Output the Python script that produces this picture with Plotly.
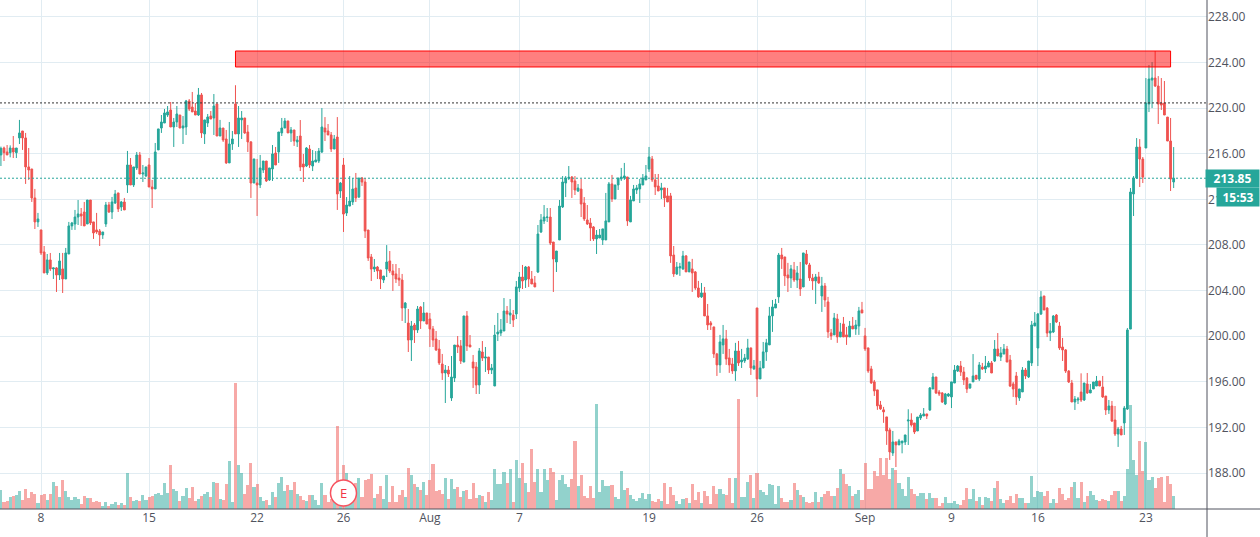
import plotly.graph_objects as go

# hourly bars, oldest first
opens = [
    215.89, 216.50, 216.15, 216.09, 216.50, 216.09, 217.38, 217.99, 217.38, 214.84,
    214.66, 212.12, 210.02, 209.32, 207.39, 205.55, 206.69, 205.90, 205.99, 205.37,
    205.90, 205.02, 207.21, 209.67, 209.84, 210.45, 210.72, 210.89, 209.84, 211.94,
    210.02, 209.32, 209.23, 208.88, 209.84, 211.51, 210.89, 211.68, 212.56, 211.33,
    211.77, 213.26, 215.01, 213.26, 214.75, 215.89, 214.22, 214.05, 215.01, 213.08,
    212.91, 216.33, 218.25, 218.69, 219.39, 219.83, 218.34, 218.78, 219.39, 218.25,
    218.34, 220.62, 220.09, 219.74, 219.39, 221.15, 217.73, 218.69, 219.30, 219.13,
    220.36, 217.55, 218.25, 217.29, 215.19, 216.85, 220.36, 217.73, 218.96, 219.13,
    217.90, 217.03, 213.43, 213.43, 213.26, 214.57, 215.36, 213.70, 214.66, 216.06,
    216.15, 217.82, 218.25, 218.87, 217.82, 218.08, 217.03, 217.55, 215.10, 214.92,
    216.41, 214.92, 215.27, 215.36, 216.15, 218.25, 217.99, 217.64, 216.41, 217.46,
    212.73, 215.01, 210.80, 211.41, 211.77, 212.99, 212.20, 213.87, 213.52, 209.31,
    206.95, 205.89, 206.07, 205.81, 204.93, 205.89, 206.60, 205.72, 205.46, 205.10,
    204.93, 202.48, 201.16, 199.67, 200.99, 200.55, 202.56, 201.34, 202.04, 201.51,
    200.64, 199.76, 198.88, 197.57, 196.78, 197.04, 194.59, 196.34, 199.23, 199.15,
    197.74, 201.78, 199.23, 197.74, 197.31, 195.73, 198.62, 198.09, 198.18, 197.04,
    195.64, 200.20, 200.29, 200.46, 202.21, 201.86, 201.86, 201.95, 204.23, 205.19,
    204.93, 206.07, 205.02, 204.67, 205.63, 209.14, 210.10, 210.40, 210.45, 208.26,
    206.51, 208.44, 211.33, 213.43, 213.84, 213.96, 213.61, 212.73, 212.90, 211.68,
    210.19, 209.93, 209.58, 208.53, 208.61, 208.44, 208.44, 210.02, 213.35, 212.03,
    213.26, 213.79, 213.87, 213.96, 210.02, 211.86, 212.82, 212.91, 213.26, 213.70,
    214.66, 215.54, 213.70, 213.17, 212.82, 213.00, 212.30, 212.30, 207.12, 205.46,
    205.99, 205.90, 207.04, 205.64, 205.90, 205.64, 204.23, 203.45, 203.80, 201.78,
    201.17, 200.82, 198.45, 197.49, 199.24, 199.77, 198.10, 197.57, 196.96, 198.71,
    197.75, 197.84, 198.01, 198.98, 197.14, 202.48, 196.26, 197.22, 198.63, 199.24,
    201.78, 202.48, 203.45, 207.12, 206.95, 205.37, 205.11, 205.81, 204.93, 205.02,
    204.32, 207.21, 206.25, 205.11, 204.85, 205.20, 203.53, 204.41, 203.01, 200.29,
    200.12, 201.52, 199.94, 201.08, 200.12, 199.94, 200.90, 200.64, 200.90, 202.31,
    200.03, 198.98, 197.14, 196.00, 195.30, 193.98, 193.55, 192.93, 191.79, 189.77,
    190.74, 190.48, 190.65, 190.73, 192.57, 192.66, 192.40, 191.70, 192.84, 193.01,
    193.19, 193.54, 195.38, 196.43, 195.11, 195.03, 194.06, 194.76, 194.68, 195.90,
    196.95, 197.39, 196.87, 196.34, 195.47, 196.00, 196.58, 196.25, 197.30, 197.13,
    197.30, 197.66, 197.83, 198.88, 198.18, 198.44, 198.88, 197.92, 195.82, 196.52,
    194.59, 195.12, 197.04, 196.43, 197.66, 200.90, 198.97, 201.95, 203.53, 202.47,
    200.28, 200.37, 201.86, 200.90, 199.06, 198.80, 196.95, 195.90, 194.24, 194.41,
    195.11, 194.41, 195.82, 195.03, 195.38, 195.64, 196.08, 195.55, 194.76, 193.54,
    193.89, 192.66, 191.43, 191.87, 192.40, 193.62, 200.63, 212.47, 213.87, 216.58,
    215.53, 216.50, 220.35, 222.45, 222.63, 221.93, 220.44, 220.44, 219.21, 217.11,
    213.52,
]
highs = [
    216.62, 216.62, 216.76, 216.73, 217.55, 216.50, 218.96, 217.99, 217.82, 216.50,
    214.66, 212.91, 210.81, 209.32, 207.91, 207.21, 207.30, 205.99, 206.07, 207.30,
    207.30, 207.74, 210.02, 210.02, 211.07, 211.94, 211.24, 211.77, 211.94, 211.94,
    210.02, 210.81, 209.40, 209.14, 211.77, 211.77, 212.21, 212.82, 212.56, 211.86,
    212.12, 216.24, 215.62, 214.84, 216.15, 216.15, 215.01, 214.84, 215.62, 213.70,
    216.94, 218.17, 219.39, 219.92, 220.18, 220.53, 219.13, 220.18, 219.39, 219.30,
    220.71, 220.79, 221.41, 220.44, 221.76, 221.32, 218.96, 219.48, 219.74, 221.23,
    220.36, 218.96, 218.25, 218.08, 218.78, 217.99, 222.00, 220.18, 219.74, 219.13,
    218.52, 217.11, 215.54, 215.54, 215.89, 215.36, 215.36, 214.75, 216.76, 216.59,
    217.90, 219.13, 219.13, 218.87, 218.34, 218.08, 217.55, 218.95, 215.97, 216.58,
    216.76, 216.32, 216.23, 216.50, 220.00, 219.21, 218.60, 217.90, 217.64, 219.21,
    213.52, 215.62, 212.20, 214.04, 213.87, 214.31, 213.87, 213.96, 213.87, 209.31,
    207.21, 206.77, 206.16, 205.81, 205.28, 207.99, 207.47, 206.33, 206.33, 205.98,
    205.46, 203.00, 202.39, 201.34, 201.16, 202.65, 202.65, 203.00, 202.04, 202.04,
    200.90, 200.46, 199.67, 198.45, 197.48, 197.39, 198.27, 199.23, 200.02, 199.67,
    201.78, 202.21, 200.11, 198.36, 197.74, 198.97, 199.58, 199.06, 198.18, 197.57,
    200.99, 202.04, 201.51, 203.35, 202.65, 203.26, 202.30, 204.84, 205.63, 206.25,
    206.16, 206.16, 205.72, 205.28, 209.75, 210.71, 211.50, 211.24, 211.24, 208.26,
    207.47, 211.94, 214.04, 214.04, 214.92, 214.04, 214.04, 213.34, 213.78, 212.20,
    211.50, 210.36, 209.66, 209.31, 209.40, 209.41, 212.56, 213.52, 214.14, 213.26,
    213.87, 214.75, 215.19, 213.96, 212.30, 213.26, 213.26, 213.79, 214.22, 215.01,
    216.59, 215.80, 214.22, 214.22, 213.44, 213.00, 213.00, 212.56, 207.91, 206.51,
    206.43, 207.48, 207.12, 206.51, 206.78, 205.72, 204.85, 204.67, 204.32, 202.83,
    201.34, 200.82, 198.54, 200.12, 200.99, 200.55, 198.89, 198.10, 199.42, 199.59,
    198.89, 198.45, 199.77, 198.98, 197.92, 202.48, 197.84, 199.50, 199.77, 202.57,
    203.18, 203.27, 207.30, 207.74, 206.95, 206.43, 206.25, 206.51, 206.16, 206.51,
    207.30, 207.56, 206.43, 205.46, 205.46, 205.64, 205.20, 204.67, 203.45, 200.64,
    202.04, 201.96, 201.17, 201.69, 200.82, 201.34, 201.69, 201.43, 202.57, 203.01,
    200.73, 198.98, 197.40, 196.17, 195.30, 194.33, 193.81, 192.93, 191.97, 191.70,
    190.74, 191.00, 190.82, 191.35, 193.60, 193.25, 192.40, 192.92, 193.27, 193.71,
    193.19, 195.55, 196.78, 196.43, 195.29, 195.11, 195.03, 195.03, 196.00, 197.48,
    197.48, 197.83, 197.30, 196.43, 195.82, 198.44, 196.60, 197.74, 197.66, 198.27,
    197.83, 197.83, 199.67, 200.28, 199.06, 199.32, 199.15, 198.36, 196.00, 196.87,
    195.38, 197.30, 197.22, 197.83, 201.34, 202.12, 202.04, 203.96, 203.53, 202.56,
    201.16, 201.86, 201.95, 201.25, 199.85, 198.88, 197.04, 196.17, 194.76, 194.68,
    196.75, 195.90, 196.78, 195.82, 195.99, 196.52, 196.08, 196.52, 194.76, 194.41,
    194.33, 193.89, 192.05, 192.14, 193.89, 200.72, 212.99, 214.04, 217.37, 217.28,
    215.71, 222.63, 223.77, 224.03, 225.00, 222.80, 222.63, 222.37, 219.21, 219.13,
    216.58,
]
lows = [
    214.92, 215.36, 215.89, 215.68, 215.62, 215.62, 216.85, 216.33, 213.35, 213.70,
    211.77, 209.40, 209.58, 207.12, 205.55, 205.37, 205.72, 205.02, 203.88, 204.93,
    203.79, 205.02, 207.21, 209.32, 209.32, 209.75, 209.67, 209.67, 209.84, 209.75,
    208.53, 208.97, 207.91, 208.53, 209.58, 210.81, 210.28, 211.59, 210.89, 210.98,
    211.07, 212.56, 213.26, 213.08, 214.57, 214.22, 213.52, 213.96, 213.08, 211.24,
    212.91, 216.33, 217.82, 218.69, 219.22, 218.34, 216.59, 218.34, 218.25, 216.85,
    217.64, 219.74, 219.66, 219.39, 219.31, 217.38, 216.85, 218.34, 219.04, 217.64,
    217.55, 217.55, 217.03, 215.10, 215.19, 216.33, 217.73, 216.59, 217.29, 217.73,
    216.15, 212.12, 213.43, 210.54, 212.99, 214.31, 213.52, 213.61, 213.61, 215.01,
    215.19, 217.55, 218.25, 217.82, 217.03, 216.68, 216.59, 214.48, 213.52, 214.83,
    214.75, 214.48, 215.27, 215.18, 216.06, 217.11, 217.64, 216.15, 216.41, 211.07,
    212.12, 209.14, 210.54, 211.41, 211.50, 211.77, 212.12, 213.17, 208.61, 206.60,
    204.84, 205.63, 205.02, 204.14, 204.67, 205.19, 205.54, 203.97, 204.67, 204.40,
    201.34, 201.16, 198.62, 197.83, 199.41, 200.29, 200.64, 201.34, 201.07, 199.06,
    199.06, 198.71, 197.48, 196.17, 194.15, 196.43, 194.33, 195.99, 198.53, 197.57,
    197.74, 198.71, 199.06, 195.47, 194.94, 194.94, 197.83, 196.87, 196.69, 196.69,
    195.64, 199.58, 200.02, 200.46, 201.16, 201.07, 200.81, 201.51, 203.88, 204.14,
    204.23, 204.32, 204.58, 204.32, 205.54, 209.05, 209.84, 210.01, 208.00, 203.88,
    205.63, 208.44, 211.24, 212.20, 213.69, 212.12, 212.38, 212.64, 210.45, 210.10,
    209.75, 208.35, 208.35, 207.21, 208.61, 208.00, 208.44, 210.02, 211.77, 212.03,
    212.82, 213.61, 213.70, 209.67, 210.02, 211.86, 212.47, 211.68, 213.26, 213.70,
    214.40, 213.52, 212.38, 212.73, 212.03, 211.33, 211.77, 206.43, 205.20, 205.37,
    205.29, 205.81, 205.64, 205.64, 203.88, 204.06, 203.36, 203.36, 201.78, 200.55,
    200.55, 198.10, 196.52, 196.79, 198.45, 197.49, 196.79, 196.70, 196.09, 197.40,
    197.22, 197.66, 197.92, 196.61, 197.05, 194.68, 196.26, 197.22, 197.84, 199.24,
    200.38, 202.48, 202.92, 205.90, 204.41, 203.88, 204.23, 204.76, 204.23, 203.53,
    204.32, 206.25, 204.85, 204.06, 202.83, 204.59, 202.13, 202.57, 199.85, 199.68,
    200.12, 199.42, 199.94, 199.94, 199.24, 199.94, 200.64, 200.12, 200.12, 202.04,
    198.71, 196.79, 195.82, 194.77, 193.55, 193.55, 192.41, 190.48, 189.16, 189.51,
    188.54, 190.48, 189.74, 190.47, 190.47, 192.08, 191.43, 191.70, 192.66, 193.01,
    192.75, 193.45, 195.38, 194.94, 194.76, 194.15, 193.97, 194.68, 193.71, 195.90,
    196.87, 196.52, 195.73, 195.03, 195.38, 196.00, 196.17, 196.08, 197.04, 196.78,
    197.30, 196.78, 197.74, 198.27, 197.83, 198.44, 197.74, 195.55, 194.68, 193.98,
    194.33, 195.12, 196.25, 196.34, 197.39, 200.90, 197.39, 201.86, 202.30, 199.93,
    199.58, 200.28, 201.16, 198.80, 197.83, 196.78, 195.90, 194.24, 193.54, 194.06,
    194.24, 194.33, 194.94, 195.03, 195.38, 195.64, 195.64, 194.59, 193.10, 193.19,
    192.49, 191.26, 190.30, 191.35, 191.35, 193.54, 200.63, 210.54, 213.78, 213.08,
    213.43, 216.50, 219.65, 220.00, 221.84, 218.60, 219.83, 219.39, 217.11, 212.73,
    212.99,
]
closes = [
    216.47, 216.09, 215.89, 216.50, 216.15, 216.50, 217.82, 217.38, 214.84, 214.57,
    212.12, 210.02, 210.28, 207.30, 205.55, 206.69, 205.90, 205.99, 205.37, 206.60,
    205.02, 207.30, 209.67, 209.93, 210.45, 210.72, 210.54, 209.67, 211.94, 209.93,
    209.05, 209.14, 208.88, 209.14, 211.51, 210.89, 211.77, 212.47, 211.16, 211.77,
    211.07, 215.01, 213.26, 214.84, 215.89, 214.22, 214.31, 214.84, 213.08, 212.91,
    216.15, 218.17, 218.78, 219.57, 219.66, 218.34, 218.78, 219.48, 218.25, 218.43,
    220.62, 219.92, 219.66, 219.39, 221.15, 217.82, 218.96, 219.22, 219.04, 220.18,
    217.55, 218.25, 217.20, 215.19, 216.85, 217.29, 217.73, 219.13, 219.13, 217.82,
    217.03, 213.43, 215.54, 213.26, 214.75, 215.36, 213.61, 214.75, 215.98, 215.01,
    217.90, 218.25, 218.87, 217.82, 218.08, 217.11, 217.20, 214.83, 214.83, 216.50,
    215.01, 215.36, 215.45, 216.23, 218.34, 217.90, 217.64, 216.41, 217.29, 212.47,
    213.43, 210.71, 211.50, 211.85, 212.90, 212.12, 213.87, 213.52, 209.22, 206.86,
    205.89, 206.07, 205.72, 205.02, 205.28, 206.51, 205.72, 205.37, 205.02, 204.93,
    202.48, 202.91, 199.67, 200.90, 200.55, 202.39, 201.34, 202.04, 201.07, 200.64,
    199.67, 198.80, 197.66, 196.78, 197.04, 196.69, 196.43, 199.23, 199.06, 197.83,
    201.78, 199.15, 199.06, 197.22, 195.73, 198.71, 198.09, 198.18, 197.04, 197.22,
    200.11, 200.37, 200.55, 202.21, 201.95, 202.04, 201.42, 204.32, 205.19, 204.84,
    206.07, 205.02, 204.58, 204.32, 208.96, 210.19, 210.45, 210.45, 208.17, 206.77,
    207.47, 211.41, 213.52, 213.87, 213.93, 213.52, 212.82, 212.99, 211.59, 210.28,
    209.84, 209.49, 208.53, 208.87, 208.87, 209.41, 210.11, 213.35, 212.03, 213.26,
    213.87, 213.96, 214.05, 210.11, 211.95, 212.91, 213.00, 213.35, 213.87, 214.05,
    215.71, 213.70, 213.09, 212.73, 213.00, 212.12, 211.77, 207.04, 205.46, 206.07,
    206.10, 207.04, 205.64, 206.51, 205.55, 204.23, 203.45, 203.80, 201.78, 200.99,
    200.99, 198.45, 197.49, 199.50, 199.77, 198.01, 197.49, 196.96, 198.71, 197.66,
    197.92, 198.10, 198.98, 197.22, 197.40, 196.26, 197.22, 198.63, 199.42, 201.78,
    202.57, 202.83, 207.12, 206.78, 205.29, 205.11, 205.90, 204.93, 205.55, 204.15,
    207.30, 206.34, 205.11, 204.85, 205.20, 204.67, 204.41, 203.18, 200.38, 200.03,
    201.60, 199.94, 200.38, 199.94, 199.94, 200.90, 200.64, 200.99, 202.22, 202.04,
    198.89, 196.96, 195.91, 195.21, 193.90, 193.63, 193.37, 191.70, 189.86, 190.74,
    190.48, 190.83, 190.82, 191.35, 192.66, 192.22, 191.61, 192.92, 193.10, 193.19,
    193.01, 195.47, 196.43, 195.03, 194.94, 194.24, 194.94, 194.94, 196.00, 197.04,
    197.39, 196.87, 196.17, 195.38, 195.82, 196.52, 196.25, 197.48, 197.13, 197.39,
    197.66, 196.78, 198.88, 198.27, 198.53, 198.88, 197.74, 195.64, 195.38, 194.68,
    195.38, 197.04, 196.52, 197.83, 200.99, 201.16, 201.95, 203.44, 202.30, 200.28,
    200.46, 201.77, 201.25, 198.97, 198.80, 196.95, 195.99, 194.24, 194.50, 194.50,
    194.41, 195.90, 195.03, 195.29, 195.99, 196.08, 195.64, 194.68, 193.54, 193.89,
    192.57, 191.43, 191.87, 191.35, 193.71, 200.55, 212.64, 213.87, 216.58, 215.53,
    213.95, 220.44, 222.54, 222.63, 221.93, 220.35, 220.26, 219.39, 217.11, 213.78,
    213.85,
]
# no scale on the pane, so these are relative units
volumes = [
    19, 7, 8, 12, 13, 14, 18, 9, 20, 11,
    17, 15, 6, 14, 15, 9, 15, 27, 23, 12,
    29, 18, 12, 9, 12, 10, 5, 13, 11, 11,
    7, 8, 7, 3, 7, 3, 5, 7, 4, 6,
    4, 36, 12, 8, 9, 8, 14, 9, 12, 13,
    15, 16, 14, 26, 16, 44, 20, 18, 8, 13,
    21, 11, 22, 8, 10, 13, 15, 17, 12, 27,
    26, 10, 9, 25, 48, 7, 126, 44, 36, 15,
    24, 46, 22, 25, 12, 8, 9, 4, 17, 12,
    26, 32, 18, 24, 19, 27, 15, 13, 9, 8,
    14, 14, 9, 4, 26, 14, 7, 10, 12, 83,
    12, 44, 36, 12, 12, 26, 31, 12, 29, 30,
    35, 11, 15, 23, 10, 34, 7, 23, 7, 14,
    19, 12, 41, 34, 25, 22, 19, 27, 14, 29,
    45, 18, 19, 15, 31, 10, 30, 20, 22, 12,
    18, 19, 10, 26, 11, 14, 13, 7, 17, 9,
    40, 25, 25, 37, 26, 40, 7, 49, 31, 46,
    26, 17, 60, 27, 40, 17, 40, 29, 41, 37,
    9, 29, 34, 25, 22, 30, 68, 23, 34, 13,
    11, 23, 11, 105, 17, 29, 23, 23, 24, 12,
    10, 38, 19, 21, 14, 10, 8, 11, 16, 10,
    15, 8, 7, 10, 8, 26, 5, 22, 14, 8,
    5, 10, 11, 6, 25, 9, 17, 6, 18, 13,
    5, 23, 15, 20, 15, 14, 31, 6, 31, 110,
    12, 12, 27, 34, 11, 36, 19, 17, 14, 25,
    24, 5, 23, 11, 7, 7, 9, 26, 19, 14,
    12, 7, 6, 7, 17, 7, 12, 15, 18, 13,
    13, 21, 40, 35, 25, 23, 13, 15, 19, 9,
    46, 20, 20, 38, 33, 51, 34, 51, 30, 41,
    39, 26, 20, 13, 32, 20, 15, 13, 16, 16,
    10, 16, 11, 11, 3, 6, 12, 6, 6, 8,
    5, 4, 9, 21, 10, 20, 8, 12, 4, 12,
    11, 8, 21, 28, 10, 6, 9, 13, 6, 15,
    11, 11, 6, 6, 33, 12, 18, 17, 13, 18,
    6, 10, 6, 21, 15, 9, 11, 22, 27, 11,
    27, 7, 13, 18, 14, 9, 8, 10, 9, 8,
    14, 18, 18, 8, 13, 40, 104, 49, 34, 68,
    38, 67, 29, 32, 21, 31, 32, 7, 33, 25,
    13,
]

tick_bars = [13, 48, 83, 111, 139, 168, 210, 245, 280, 308, 336, 371]
tick_labels = ["8", "15", "22", "26", "Aug", "7", "19", "26", "Sep", "9", "16", "23"]

last_price = 213.85
countdown = "15:53"
prev_close = 220.45
zone_low, zone_high = 223.6, 225.0
zone_start, zone_end = 76, 379
earnings_bar = 111

GREEN = "#26a69a"
RED = "#ef5350"
GRID = "#e1ecf2"
AXIS = "#50535e"
FONT = "Open Sans"

bars = list(range(len(closes)))
vol_colors = [
    "rgba(38,166,154,0.5)" if c >= o else "rgba(239,83,80,0.5)"
    for o, c in zip(opens, closes)
]

fig = go.Figure()
fig.add_trace(go.Bar(x=bars, y=volumes, marker_color=vol_colors, marker_line_width=0,
                     xaxis="x", yaxis="y"))
fig.add_trace(go.Scatter(x=[earnings_bar], y=[16], mode="markers",
                         marker=dict(size=26, color="white",
                                     line=dict(color="#f7525f", width=1.5)),
                         xaxis="x", yaxis="y"))
fig.add_trace(go.Candlestick(x=bars, open=opens, high=highs, low=lows, close=closes,
                             xaxis="x", yaxis="y2", whiskerwidth=0,
                             increasing=dict(line=dict(color=GREEN, width=1), fillcolor=GREEN),
                             decreasing=dict(line=dict(color=RED, width=1), fillcolor=RED)))

fig.update_layout(
    width=1260, height=537,
    margin=dict(l=0, r=53, t=0, b=28),
    paper_bgcolor="white", plot_bgcolor="white",
    showlegend=False, bargap=0, boxgap=0.2,
    font=dict(family=FONT, size=12, color=AXIS),
    xaxis=dict(range=[-0.3, 390.8], tickmode="array", tickvals=tick_bars, ticktext=tick_labels,
               showgrid=True, gridcolor=GRID, gridwidth=1, zeroline=False,
               rangeslider=dict(visible=False), ticks="", tickfont=dict(size=12, color=AXIS)),
    yaxis=dict(range=[0, 509], visible=False, showgrid=False, zeroline=False),
    yaxis2=dict(range=[184.86, 229.47], overlaying="y", side="right", anchor="x",
                tickmode="linear", tick0=188, dtick=4, tickformat=".2f",
                showgrid=True, gridcolor=GRID, gridwidth=1, zeroline=False, ticks="",
                tickfont=dict(size=12, color=AXIS)),
    shapes=[
        dict(type="rect", xref="x", yref="y2", x0=zone_start, x1=zone_end,
             y0=zone_low, y1=zone_high, fillcolor="rgba(255,0,0,0.5)",
             line=dict(color="#ff0000", width=1), layer="above"),
        dict(type="line", xref="paper", yref="y2", x0=0, x1=1, y0=prev_close, y1=prev_close,
             line=dict(color="#333333", width=1, dash="2px,2px")),
        dict(type="line", xref="paper", yref="y2", x0=0, x1=1, y0=last_price, y1=last_price,
             line=dict(color=GREEN, width=1, dash="2px,2px")),
        dict(type="line", xref="paper", yref="paper", x0=0, x1=1.044, y0=0, y1=0,
             line=dict(color=AXIS, width=1)),
        dict(type="line", xref="paper", yref="paper", x0=1, x1=1, y0=-0.055, y1=1,
             line=dict(color=AXIS, width=1)),
    ],
    annotations=[
        dict(xref="x", yref="y", x=earnings_bar, y=16, text="E", showarrow=False,
             font=dict(family=FONT, size=13, color="#f23645")),
        dict(xref="paper", yref="y2", x=1.044, y=last_price, xanchor="right", yanchor="middle",
             text=f"<b>{last_price:.2f}</b>", showarrow=False, bgcolor=GREEN, borderpad=1,
             width=51, height=15, font=dict(family=FONT, size=12, color="white")),
        dict(xref="paper", yref="y2", x=1.044, y=last_price, yshift=-19, xanchor="right",
             yanchor="middle", text=f"<b>{countdown}</b>", showarrow=False, bgcolor=GREEN,
             borderpad=1, width=40, height=16, font=dict(family=FONT, size=12, color="white")),
    ],
)

# the page's default body margin would push the chart off the window
fig.write_html("out.html", post_script="document.body.style.margin='0';",
               config=dict(displayModeBar=False))
